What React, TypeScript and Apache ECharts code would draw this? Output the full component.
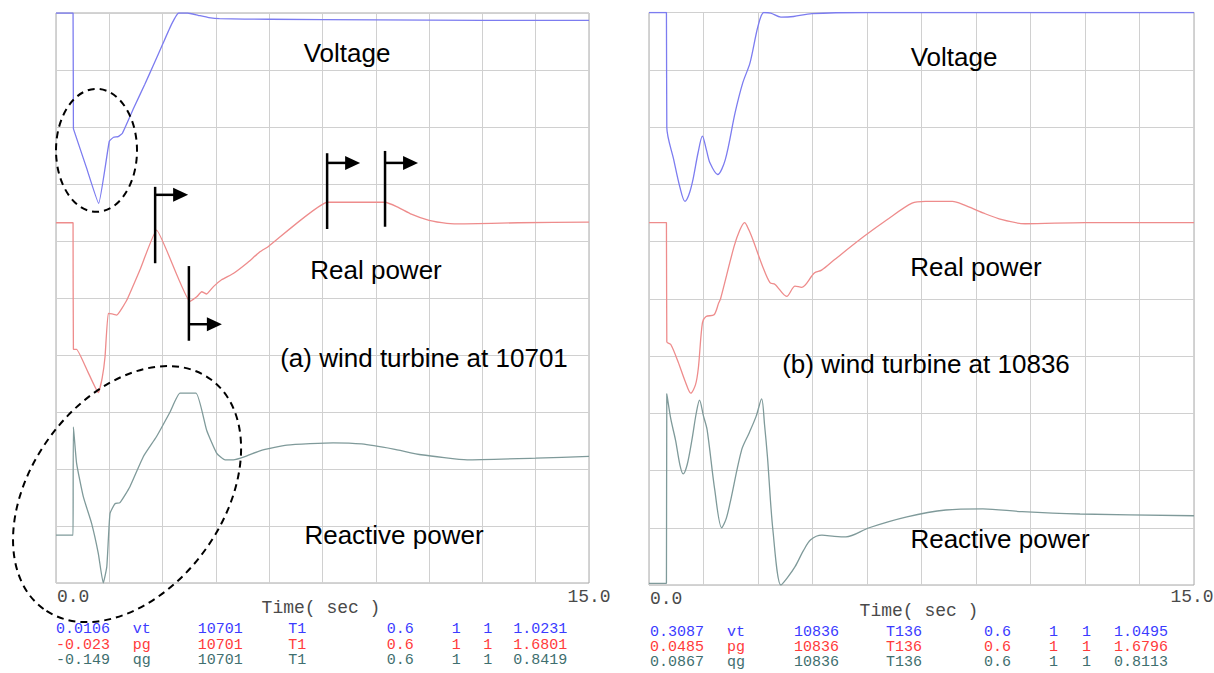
import { useEffect, useRef } from "react";
import * as echarts from "echarts";

// ---------- data (time in s, value in grid divisions 0..10) ----------
const leftVoltage: [number, number][] = [
  [0, 10], [0.46, 10], [0.48, 10], [0.49, 7.98], [0.5, 7.95], [0.85, 7.3], [1.2, 6.66],
  [1.5, 7.75], [1.62, 7.82], [1.75, 7.83], [1.87, 7.89], [2.2, 8.35], [2.5, 8.75],
  [2.73, 9.07], [3.0, 9.45], [3.25, 9.8], [3.45, 10.0], [3.7, 10.0], [4.0, 9.96],
  [4.3, 9.92], [4.6, 9.9], [6, 9.89], [9, 9.88], [12, 9.87], [15, 9.87],
];
const leftRealPower: [number, number][] = [
  [0, 6.32], [0.46, 6.32], [0.48, 6.32], [0.49, 4.1], [0.58, 4.1], [0.9, 3.7], [1.19, 3.34],
  [1.3, 3.6], [1.38, 3.97], [1.47, 4.73], [1.58, 4.72], [1.71, 4.7], [1.99, 4.96],
  [2.36, 5.49], [2.83, 6.19], [3.77, 4.94], [3.96, 5.02], [4.1, 5.11], [4.24, 5.07],
  [4.43, 5.2], [4.66, 5.32], [4.99, 5.43], [5.37, 5.61], [5.74, 5.81], [5.97, 5.9],
  [7.64, 6.68], [9.26, 6.68], [9.6, 6.6], [10.0, 6.47], [10.5, 6.36], [11.0, 6.31],
  [11.5, 6.3], [13, 6.32], [15, 6.33],
];
const leftReactivePower: [number, number][] = [
  [0, 0.84], [0.46, 0.84], [0.48, 0.84], [0.49, 2.74], [0.58, 2.1], [0.77, 1.51], [1.0, 1.05],
  [1.19, 0.52], [1.33, 0.0], [1.43, 0.29], [1.52, 1.22], [1.66, 1.39], [1.8, 1.41],
  [2.08, 1.69], [2.46, 2.22], [2.83, 2.57], [3.21, 3.0], [3.49, 3.33], [3.94, 3.33],
  [4.24, 2.68], [4.52, 2.28], [4.76, 2.16], [4.99, 2.16], [5.37, 2.23], [5.74, 2.32],
  [6.5, 2.42], [7.8, 2.46], [8.6, 2.44], [9.5, 2.35], [10.28, 2.25], [11.57, 2.16],
  [13.5, 2.19], [15, 2.22],
];
const rightVoltage: [number, number][] = [
  [0, 10], [0.46, 10], [0.48, 10], [0.49, 7.99], [0.68, 7.43], [0.85, 6.95], [0.99, 6.7],
  [1.1, 6.82], [1.21, 7.08], [1.35, 7.55], [1.47, 7.84], [1.58, 7.6], [1.68, 7.37],
  [1.89, 7.17], [2.1, 7.43], [2.37, 8.25], [2.58, 8.77], [2.78, 9.12], [3.0, 9.76],
  [3.16, 10.0], [3.35, 9.99], [3.63, 9.92], [3.98, 9.93], [4.48, 9.98], [6, 10], [15, 10],
];
const rightRealPower: [number, number][] = [
  [0, 6.33], [0.46, 6.33], [0.48, 6.33], [0.49, 4.25], [0.6, 4.2], [0.8, 3.9], [1.0, 3.55],
  [1.15, 3.35], [1.28, 3.5], [1.36, 3.8], [1.47, 4.58], [1.57, 4.69], [1.79, 4.72],
  [1.92, 4.93], [1.97, 5.0], [2.34, 5.91], [2.5, 6.2], [2.63, 6.33], [2.75, 6.2],
  [2.86, 6.03], [3.13, 5.56], [3.33, 5.28], [3.47, 5.25], [3.79, 5.04], [4.02, 5.22],
  [4.2, 5.2], [4.55, 5.45], [4.75, 5.5], [5.1, 5.68], [5.92, 6.09], [6.55, 6.38],
  [7.24, 6.67], [7.61, 6.7], [8.35, 6.7], [8.67, 6.64], [9.19, 6.5], [9.72, 6.38],
  [10.35, 6.31], [12, 6.33], [15, 6.33],
];
const rightReactivePower: [number, number][] = [
  [0, 0.03], [0.46, 0.03], [0.48, 0.03], [0.49, 3.34], [0.6, 2.9], [0.73, 2.53], [0.85, 2.1],
  [0.94, 1.94], [1.05, 2.1], [1.18, 2.53], [1.3, 3.0], [1.39, 3.23], [1.5, 2.95],
  [1.6, 2.71], [1.81, 1.66], [2.0, 1.0], [2.12, 1.15], [2.23, 1.43], [2.55, 2.36],
  [2.76, 2.66], [2.95, 2.95], [3.1, 3.25], [3.18, 2.8], [3.26, 2.24], [3.41, 0.96],
  [3.63, 0.0], [3.8, 0.12], [4.02, 0.32], [4.25, 0.6], [4.45, 0.79], [4.76, 0.87],
  [5.1, 0.85], [5.42, 0.84], [6.06, 1.0], [7.1, 1.19], [8.17, 1.31], [9.19, 1.33],
  [10.27, 1.28], [11.86, 1.24], [15, 1.21],
];

const xTickLabels = ["0.0", "15.0"];
const xAxisTitle = "Time( sec )";
const panelTitles = ["(a) wind turbine at 10701", "(b) wind turbine at 10836"];
const curveNames = ["Voltage", "Real power", "Reactive power"];

const legendLeft = [
  ["0.0106", "vt", "10701", "T1", "0.6", "1", "1", "1.0231"],
  ["-0.023", "pg", "10701", "T1", "0.6", "1", "1", "1.6801"],
  ["-0.149", "qg", "10701", "T1", "0.6", "1", "1", "0.8419"],
];
const legendRight = [
  ["0.3087", "vt", "10836", "T136", "0.6", "1", "1", "1.0495"],
  ["0.0485", "pg", "10836", "T136", "0.6", "1", "1", "1.6796"],
  ["0.0867", "qg", "10836", "T136", "0.6", "1", "1", "0.8113"],
];

// annotation anchors in data coordinates (left panel)
const flagTimes = [2.79, 7.63, 9.26, 3.74];
const flagTops = [6.95, 7.54, 7.58, 5.56];
const flagBottoms = [5.61, 6.21, 6.25, 4.25];
const flagArrowLevels = [6.81, 7.37, 7.37, 4.54];

// ---------- styles ----------
const LINE_COLORS = ["#7c7cf0", "#ee8c8c", "#7f9a9a"];
const TEXT_COLORS = ["#3b3bff", "#ff3b3b", "#3f6f6f"];
const MONO = '"Liberation Mono", "Courier New", monospace';
const SANS = '"Liberation Sans", Arial, sans-serif';

export default function App() {
  const ref = useRef<HTMLDivElement>(null);

  useEffect(() => {
    const chart = echarts.init(ref.current!, null, { renderer: "svg" });

    const xAxis = (gridIndex: number) => ({
      type: "value",
      gridIndex,
      min: 0,
      max: 15,
      interval: 1.5,
      axisLine: { show: false },
      axisTick: { show: false },
      axisLabel: { show: false },
      splitLine: { show: true, lineStyle: { color: "#d0d0d0", width: 1 } },
    });
    const yAxis = (gridIndex: number) => ({
      type: "value",
      gridIndex,
      min: 0,
      max: 10,
      interval: 1,
      axisLine: { show: false },
      axisTick: { show: false },
      axisLabel: { show: false },
      splitLine: { show: true, lineStyle: { color: "#d0d0d0", width: 1 } },
    });
    const line = (data: [number, number][], idx: number, colorIdx: number, smooth: number) => ({
      type: "line",
      xAxisIndex: idx,
      yAxisIndex: idx,
      data,
      showSymbol: false,
      smooth,
      clip: true,
      lineStyle: { color: LINE_COLORS[colorIdx], width: 1.3 },
      z: 3,
    });

    chart.setOption({
      animation: false,
      backgroundColor: "#ffffff",
      grid: [
        { left: 56, top: 13, width: 533, height: 570, show: true, borderColor: "#a8a8a8", borderWidth: 1, backgroundColor: "transparent" },
        { left: 649, top: 12.5, width: 545, height: 572.5, show: true, borderColor: "#a8a8a8", borderWidth: 1, backgroundColor: "transparent" },
      ],
      xAxis: [xAxis(0), xAxis(1)],
      yAxis: [yAxis(0), yAxis(1)],
      series: [
        line(leftVoltage, 0, 0, 0.12),
        line(leftRealPower, 0, 1, 0.12),
        line(leftReactivePower, 0, 2, 0.15),
        line(rightVoltage, 1, 0, 0.3),
        line(rightRealPower, 1, 1, 0.3),
        line(rightReactivePower, 1, 2, 0.3),
      ],
    });

    const px = (g: number, t: number, v: number) =>
      chart.convertToPixel({ gridIndex: g } as any, [t, v]) as number[];

    const graphics: any[] = [];
    const text = (x: number, y: number, s: string, font: string, fill: string, align = "left") =>
      graphics.push({
        type: "text",
        x,
        y,
        z: 100,
        style: { text: s, font, fill, textAlign: align, textVerticalAlign: "middle" },
      });

    // axis labels
    text(57, 597, xTickLabels[0], `18px ${MONO}`, "#4a4a4a");
    text(589, 597, xTickLabels[1], `18px ${MONO}`, "#4a4a4a", "center");
    text(321, 608, xAxisTitle, `18px ${MONO}`, "#4a4a4a", "center");
    text(650, 599, xTickLabels[0], `18px ${MONO}`, "#4a4a4a");
    text(1192, 597, xTickLabels[1], `18px ${MONO}`, "#4a4a4a", "center");
    text(919, 611, xAxisTitle, `18px ${MONO}`, "#4a4a4a", "center");

    // legend tables
    const colsLeft = [56, 132.7, 197.7, 288.3, 386.7, 451.7, 483.3, 513.3];
    const colsRight = [650, 727, 794, 886, 984, 1049, 1082, 1114];
    const rowsLeft = [629, 645, 660];
    const rowsRight = [632, 647, 662];
    legendLeft.forEach((row, r) =>
      row.forEach((cell, c) => text(colsLeft[c], rowsLeft[r], cell, `15px ${MONO}`, TEXT_COLORS[r]))
    );
    legendRight.forEach((row, r) =>
      row.forEach((cell, c) => text(colsRight[c], rowsRight[r], cell, `15px ${MONO}`, TEXT_COLORS[r]))
    );

    // curve captions
    const big = `26px ${SANS}`;
    text(347, 53, curveNames[0], big, "#000", "center");
    text(376, 270, curveNames[1], big, "#000", "center");
    text(424, 358, panelTitles[0], big, "#000", "center");
    text(394, 535, curveNames[2], big, "#000", "center");
    text(954, 57, curveNames[0], big, "#000", "center");
    text(976, 267, curveNames[1], big, "#000", "center");
    text(926, 364, panelTitles[1], big, "#000", "center");
    text(1000, 539, curveNames[2], big, "#000", "center");

    // flags (vertical bar + arrow to the right)
    flagTimes.forEach((t, i) => {
      const top = px(0, t, flagTops[i]);
      const bot = px(0, t, flagBottoms[i]);
      const arr = px(0, t, flagArrowLevels[i]);
      const tipX = arr[0] + 33;
      graphics.push({
        type: "line",
        z: 100,
        shape: { x1: top[0], y1: top[1], x2: bot[0], y2: bot[1] },
        style: { stroke: "#000", lineWidth: 2.5 },
      });
      graphics.push({
        type: "line",
        z: 100,
        shape: { x1: arr[0], y1: arr[1], x2: tipX - 13, y2: arr[1] },
        style: { stroke: "#000", lineWidth: 2.5 },
      });
      graphics.push({
        type: "polygon",
        z: 100,
        shape: { points: [[tipX, arr[1]], [tipX - 15, arr[1] - 7], [tipX - 15, arr[1] + 7]] },
        style: { fill: "#000" },
      });
    });

    // dashed ellipses
    const c1 = px(0, 1.14, 7.59);
    graphics.push({
      type: "ellipse",
      z: 100,
      shape: { cx: c1[0], cy: c1[1], rx: 40.5, ry: 61.5 },
      style: { fill: "none", stroke: "#000", lineWidth: 2, lineDash: [7, 5] },
    });
    const c2 = px(0, 2.0, 1.56);
    graphics.push({
      type: "ellipse",
      z: 100,
      x: c2[0],
      y: c2[1],
      rotation: (54 * Math.PI) / 180,
      shape: { cx: 0, cy: 0, rx: 142, ry: 96 },
      style: { fill: "none", stroke: "#000", lineWidth: 2, lineDash: [7, 5] },
    });

    chart.setOption({ graphic: graphics });

    return () => chart.dispose();
  }, []);

  return (
    <div
      ref={ref}
      style={{ position: "fixed", left: 0, top: 0, width: 1214, height: 673, background: "#fff" }}
    />
  );
}
